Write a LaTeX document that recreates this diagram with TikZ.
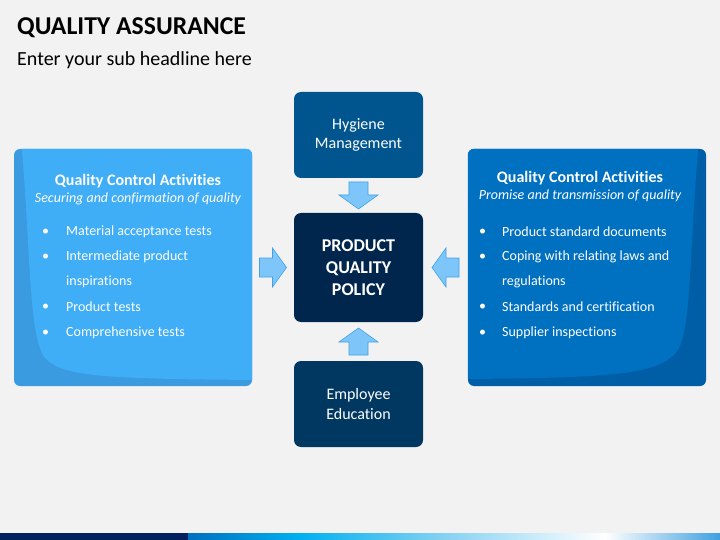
\documentclass[tikz,border=0pt]{standalone}
\usepackage{fontspec}
\setmainfont{Carlito}[Ligatures=CommonOff]
\usetikzlibrary{calc}
\definecolor{bgrey}{HTML}{F2F2F2}
\definecolor{lightbox}{HTML}{40ADF7}
\definecolor{lightdark}{HTML}{3A9BE0}
\definecolor{midbox}{HTML}{0070C0}
\definecolor{middark}{HTML}{005EA6}
\definecolor{hygblue}{HTML}{00558F}
\definecolor{polblue}{HTML}{00264D}
\definecolor{empblue}{HTML}{003862}
\definecolor{arrowfill}{HTML}{7EC6FA}
\definecolor{arrowline}{HTML}{3FA2E6}
\definecolor{navybar}{HTML}{002060}
\definecolor{barcyan}{HTML}{00B0F0}
\definecolor{barpale}{HTML}{8AD3F2}
\definecolor{barend}{HTML}{3FA0E0}
\tikzset{
  box/.style={rounded corners=7pt, minimum width=129pt, text=white, align=center, inner sep=0pt},
  bigbox/.style={rounded corners=6pt, minimum width=238pt, minimum height=237pt, inner sep=0pt},
  item/.style={anchor=west, text=white, font=\fontsize{14}{16}\selectfont, inner sep=0pt},
  bigarrow/.pic={\draw[fill=arrowfill, draw=arrowline, line width=0.6pt, line join=miter] (-13.5,-9.5) -- (-0.5,-9.5) -- (-0.5,-19.5) -- (13.5,0) -- (-0.5,19.5) -- (-0.5,9.5) -- (-13.5,9.5) -- cycle;}
}
\begin{document}
\begin{tikzpicture}[x=1pt,y=-1pt]
  \fill[bgrey] (0,0) rectangle (720,540);
  \useasboundingbox (0,0) rectangle (720,540);
  % headline
  \node[anchor=base west, inner sep=0pt, font=\fontsize{25.7}{30}\selectfont\bfseries] (title) at (17,35) {QUALITY ASSURANCE};
  \node[anchor=base west, inner sep=0pt, font=\fontsize{20}{24}\selectfont] (sub) at (17,66) {Enter your sub headline here};
  % centre column
  \node[box, fill=hygblue, minimum height=86pt, font=\fontsize{16}{19.5}\selectfont] (hyg) at (358.5,135) {Hygiene\\Management};
  \node[box, fill=polblue, minimum height=109pt, font=\fontsize{18}{22}\selectfont\bfseries] (pol) at (358.5,267.5) {PRODUCT\\QUALITY\\POLICY};
  \node[box, fill=empblue, minimum height=86pt, font=\fontsize{16}{19.5}\selectfont] (emp) at (358.5,404) {Employee\\Education};
  % side boxes
  \node[bigbox, fill=lightdark] (lbox) at (133,267.5) {};
  \node[bigbox, fill=middark] (rbox) at (587,267.5) {};
  \begin{scope}
    \clip[rounded corners=6pt] (lbox.north west) rectangle (lbox.south east);
    \fill[lightbox] (21,140) .. controls (31,250) and (28,335) .. (45,358) .. controls (62,376) and (100,379) .. (260,380) -- (260,140) -- cycle;
  \end{scope}
  \begin{scope}
    \clip[rounded corners=6pt] (rbox.north west) rectangle (rbox.south east);
    \fill[midbox] (699,140) .. controls (689,250) and (692,325) .. (678,350) .. controls (660,374) and (620,378) .. (460,379) -- (460,140) -- cycle;
  \end{scope}
  % arrows
  \pic[rotate=-90] at ($(hyg.south)!0.5!(pol.north)$) {bigarrow};
  \pic[rotate=90] at ($(emp.north)!0.5!(pol.south)$) {bigarrow};
  \pic at ($(lbox.east)!0.5!(pol.west)$) {bigarrow};
  \pic[rotate=180] at ($(rbox.west)!0.5!(pol.east)$) {bigarrow};
  % left box text
  \node[text=white, font=\fontsize{16}{18}\selectfont\bfseries] (lhead) at (138,181) {Quality Control Activities};
  \node[text=white, font=\fontsize{14}{16}\selectfont\itshape] (lsub) at (138,199) {Securing and confirmation of quality};
  \node[item] (lb1) at (42,232) {\textbullet};
  \node[item] (l1) at (66,232) {Material acceptance tests};
  \node[item] (lb2) at (42,257) {\textbullet};
  \node[item] (l2) at (66,257) {Intermediate product};
  \node[item] (l3) at (66,282) {inspirations};
  \node[item] (lb4) at (42,307) {\textbullet};
  \node[item] (l4) at (66,307) {Product tests};
  \node[item] (lb5) at (42,333) {\textbullet};
  \node[item] (l5) at (66,333) {Comprehensive tests};
  % right box text
  \node[text=white, font=\fontsize{16}{18}\selectfont\bfseries] (rhead) at (580,178) {Quality Control Activities};
  \node[text=white, font=\fontsize{14}{16}\selectfont\itshape] (rsub) at (580,196) {Promise and transmission of quality};
  \node[item] (rb1) at (479,232) {\textbullet};
  \node[item] (r1) at (502,232) {Product standard documents};
  \node[item] (rb2) at (479,257) {\textbullet};
  \node[item] (r2) at (502,257) {Coping with relating laws and};
  \node[item] (r3) at (502,282) {regulations};
  \node[item] (rb4) at (479,307) {\textbullet};
  \node[item] (r4) at (502,307) {Standards and certification};
  \node[item] (rb5) at (479,333) {\textbullet};
  \node[item] (r5) at (502,333) {Supplier inspections};
  % bottom bar
  \fill[navybar] (0,533) rectangle (188,540);
  \fill[left color=midbox, right color=barcyan] (188,533) rectangle (300,540);
  \fill[left color=barcyan, right color=barpale] (300,533) rectangle (450,540);
  \fill[left color=barpale, right color=white] (450,533) rectangle (605,540);
  \fill[left color=white, right color=barend] (605,533) rectangle (720,540);
\end{tikzpicture}
\end{document}
